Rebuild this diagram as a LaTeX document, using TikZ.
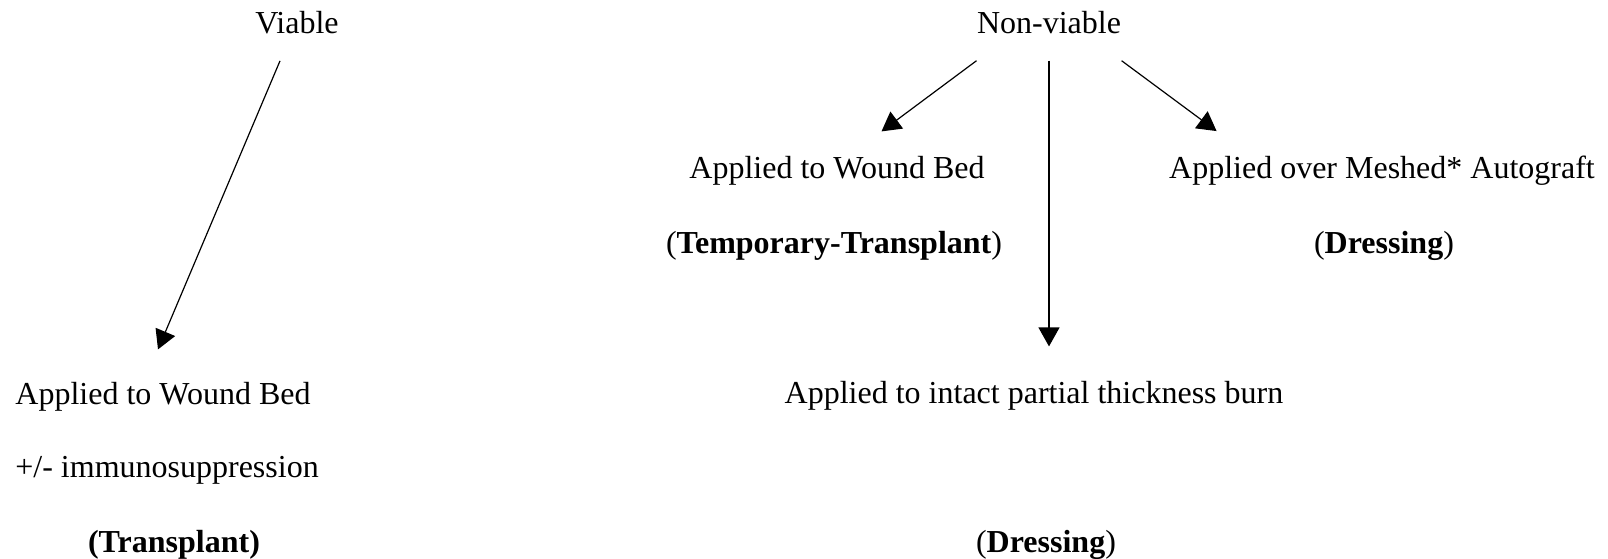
\documentclass[tikz,border=0pt]{standalone}
\usepackage{fontspec}
\setmainfont{Liberation Serif}
\usetikzlibrary{arrows.meta, positioning}

\begin{document}
\begin{tikzpicture}[
        x=0.5pt, y=-0.5pt,
        >={Triangle[length=9.5pt, width=10.5pt]},
        font=\fontsize{16}{19}\selectfont,
        lbl/.style={inner sep=3pt, anchor=base},
        lblw/.style={inner sep=3pt, anchor=base west},
        arr/.style={->, draw=black, line width=0.6pt}
    ]
    \useasboundingbox (0,0) rectangle (1608,558);

    % Top categories
    \node[lbl] (viable)    at (297,33)  {Viable};
    \node[lbl] (nonviable) at (1049,33) {Non-viable};

    % Viable branch
    \node[lblw] (wbedL)  at (9,404) {Applied to Wound Bed};
    \node[lblw] (immuno) at (9,477) {+/- immunosuppression};
    \node[lbl]  (transp) at (174,552) {\textbf{(Transplant)}};

    % Non-viable branches
    \node[lbl] (wbedM)  at (837,178)  {Applied to Wound Bed};
    \node[lbl] (tempt)  at (834,253)  {(\textbf{Temporary-Transplant})};
    \node[lbl] (mesh)   at (1382,178) {Applied over Meshed* Autograft};
    \node[lbl] (dressR) at (1384,253) {(\textbf{Dressing})};
    \node[lbl] (burn)   at (1034,403) {Applied to intact partial thickness burn};
    \node[lbl] (dressB) at (1046,552) {(\textbf{Dressing})};

    % Arrows
    \draw[arr] ([xshift=-8.5pt,yshift=-10.5pt]viable.south) -- ([xshift=-2.5pt,yshift=13pt]wbedL.north);
    \draw[arr] ([xshift=-36.25pt,yshift=-10.5pt]nonviable.south) -- ([xshift=22.25pt,yshift=9pt]wbedM.north);
    \draw[arr] ([xshift=36.3pt,yshift=-10.5pt]nonviable.south) -- ([xshift=-82.7pt,yshift=9pt]mesh.north);
    \draw[arr, shorten <=10.5pt, shorten >=14pt] (nonviable.south) -- (nonviable.south |- burn.north);

\end{tikzpicture}
\end{document}
